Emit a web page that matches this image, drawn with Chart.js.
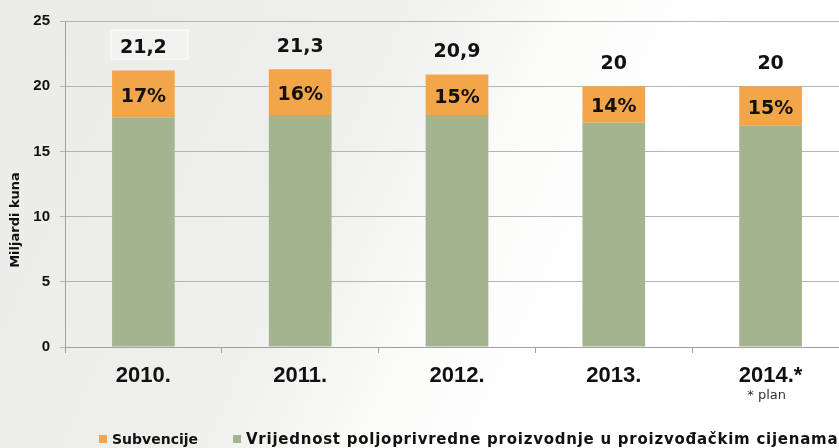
<!DOCTYPE html>
<html lang="hr">
<head>
    <meta charset="UTF-8">
    <title>Subvencije i vrijednost poljoprivredne proizvodnje</title>
    <script src="https://cdn.jsdelivr.net/npm/chart.js@4.4.1/dist/chart.umd.min.js"></script>
    <style>
        html, body {
            margin: 0;
            padding: 0;
            overflow: hidden;
        }
        body {
            width: 839px;
            height: 448px;
            background: linear-gradient(115deg, #ebebe9 0%, #efefed 38%, #fbfbfa 55%, #ffffff 70%);
        }
        .chart-wrap {
            width: 860px;
            height: 448px;
        }
    </style>
</head>
<body>

<div class="chart-wrap">
    <canvas id="subChart"></canvas>
</div>

<script>
    // Data (milijardi kuna)
    const years = ['2010.', '2011.', '2012.', '2013.', '2014.*'];
    const proizvodnja = [17.6, 17.8, 17.8, 17.2, 17.0];
    const subvencije = [3.6, 3.5, 3.1, 2.8, 3.0];
    const totalLabels = ['21,2', '21,3', '20,9', '20', '20'];
    const shareLabels = ['17%', '16%', '15%', '14%', '15%'];
    const yTicks = [0, 5, 10, 15, 20, 25];

    const orange = '#f3a54a';
    const green = '#a5b490';

    // Draws value labels, y title, footnote and the legend
    const extrasPlugin = {
        id: 'extras',
        afterDatasetsDraw(chart) {
            const ctx = chart.ctx;
            const topMeta = chart.getDatasetMeta(1);
            const botMeta = chart.getDatasetMeta(0);
            ctx.save();
            ctx.textAlign = 'center';
            ctx.textBaseline = 'middle';
            topMeta.data.forEach((bar, i) => {
                if (i === 0) {
                    // the first total sits in a faint white box
                    ctx.fillStyle = 'rgba(255,255,255,0.3)';
                    ctx.fillRect(bar.x - 33, bar.y - 41, 78, 30);
                    ctx.strokeStyle = 'rgba(255,255,255,0.9)';
                    ctx.lineWidth = 1;
                    ctx.strokeRect(bar.x - 32.5, bar.y - 40.5, 77, 29);
                }
                ctx.fillStyle = '#111';
                ctx.font = 'bold 19px "DejaVu Sans"';
                ctx.fillText(totalLabels[i], bar.x, bar.y - 22);
                const bottom = botMeta.data[i].y;
                ctx.fillText(shareLabels[i], bar.x, (bar.y + bottom) / 2 + 3);
            });

            // y title
            ctx.save();
            ctx.translate(16, 220);
            ctx.rotate(-Math.PI / 2);
            ctx.font = 'bold 13px "DejaVu Sans"';
            ctx.fillText('Miljardi kuna', 0, 0);
            ctx.restore();

            // footnote under the last year
            const xs = chart.scales.x;
            ctx.font = '13px "DejaVu Sans"';
            ctx.fillStyle = '#333';
            ctx.fillText('* plan', xs.getPixelForValue(4) - 4, 396);

            // legend
            ctx.textAlign = 'left';
            ctx.fillStyle = orange;
            ctx.fillRect(99, 435, 8, 8);
            ctx.fillStyle = green;
            ctx.fillRect(233, 435, 8, 8);
            ctx.fillStyle = '#111';
            ctx.font = 'bold 14px "DejaVu Sans"';
            ctx.fillText('Subvencije', 112, 440);
            ctx.font = 'bold 15px "DejaVu Sans"';
            ctx.letterSpacing = '0.75px';
            ctx.fillText('Vrijednost poljoprivredne proizvodnje u proizvođačkim cijenama', 246, 440);
            ctx.letterSpacing = '0px';
            ctx.restore();
        }
    };

    new Chart(document.getElementById('subChart'), {
        type: 'bar',
        data: {
            labels: years,
            datasets: [
                {
                    label: 'Vrijednost poljoprivredne proizvodnje u proizvođačkim cijenama',
                    data: proizvodnja,
                    backgroundColor: green,
                    borderWidth: 0,
                    barPercentage: 0.4,
                    categoryPercentage: 1.0
                },
                {
                    label: 'Subvencije',
                    data: subvencije,
                    backgroundColor: orange,
                    borderWidth: 0,
                    barPercentage: 0.4,
                    categoryPercentage: 1.0
                }
            ]
        },
        options: {
            responsive: true,
            maintainAspectRatio: false,
            animation: false,
            layout: {
                padding: { top: 21, right: 11, left: 0, bottom: 0 }
            },
            plugins: {
                legend: { display: false },
                tooltip: { enabled: false }
            },
            scales: {
                x: {
                    stacked: true,
                    afterFit: (scale) => { scale.height = 101; },
                    border: { color: '#a0a0a0' },
                    grid: {
                        display: true,
                        drawOnChartArea: false,
                        tickLength: 6,
                        color: '#a0a0a0',
                        offset: true
                    },
                    ticks: {
                        color: '#111',
                        padding: 10,
                        font: { family: '"Liberation Sans"', size: 22, weight: 'bold' }
                    }
                },
                y: {
                    stacked: true,
                    min: 0,
                    max: 25,
                    afterFit: (scale) => { scale.width = 65; },
                    afterBuildTicks: (scale) => { scale.ticks = yTicks.map(v => ({ value: v })); },
                    border: { color: '#a0a0a0' },
                    grid: {
                        color: '#b4b4b4',
                        tickLength: 5
                    },
                    ticks: {
                        color: '#111',
                        padding: 10,
                        font: { family: '"Liberation Sans"', size: 15, weight: 'bold' }
                    }
                }
            }
        },
        plugins: [extrasPlugin]
    });
</script>
</body>
</html>
